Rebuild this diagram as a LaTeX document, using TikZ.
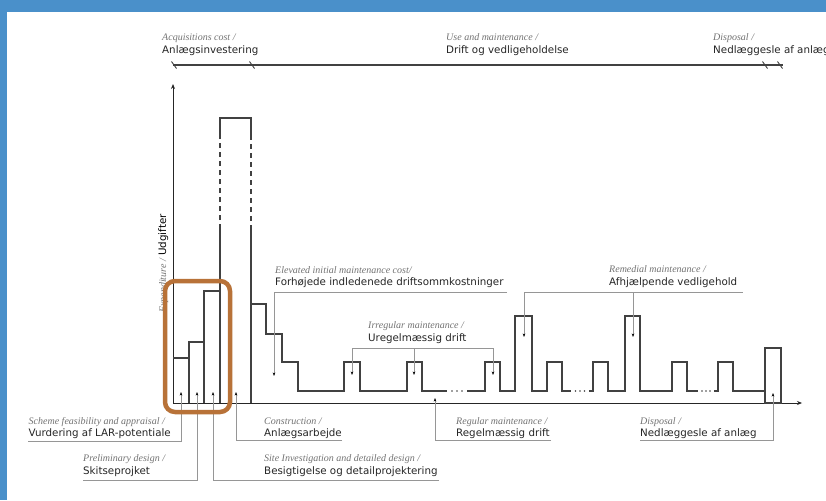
\documentclass[tikz,border=0pt]{standalone}
\usepackage{fontspec}
\setmainfont{DejaVu Sans}
\newfontfamily\itfont{Liberation Serif}
\usetikzlibrary{arrows.meta}
\definecolor{frameblue}{RGB}{74,144,202}
\definecolor{copper}{RGB}{184,114,56}
\definecolor{itgray}{RGB}{115,115,115}
\definecolor{lead}{RGB}{150,150,150}
\definecolor{ink}{RGB}{65,65,65}
\begin{document}
\begin{tikzpicture}[x=1pt,y=-1pt,
  en/.style={font=\itfont\itshape\fontsize{10}{12}\selectfont, text=itgray, anchor=base west, inner sep=0pt},
  dk/.style={font=\fontsize{10.3}{12}\selectfont, text=black!85, anchor=base west, inner sep=0pt},
  leader/.style={draw=lead, line width=0.9pt, -{Stealth[length=3.5pt,width=2.6pt,color=black]}},
  bracket/.style={draw=lead, line width=0.9pt},
  curve/.style={draw=ink, line width=1.1pt, line join=miter},
  axis/.style={draw=black!85, line width=1pt, -{Stealth[length=5pt,width=4pt]}},
  tick/.style={draw=ink, line width=0.9pt},
  dot/.style={fill=ink, draw=none, circle, minimum size=1.6pt, inner sep=0pt},
]
\useasboundingbox (0,0) rectangle (826,500);
\fill[white] (0,0) rectangle (826,500);
\fill[frameblue] (0,0) rectangle (826,12);
\fill[frameblue] (0,0) rectangle (7,500);

% ---------- top timeline ----------
\node[en] (acqE) at (162,40.5) {Acquisitions cost /};
\node[dk] (acqD) at (162,53.5) {Anlægsinvestering};
\node[en] (useE) at (446,40.5) {Use and maintenance /};
\node[dk] (useD) at (446,53.5) {Drift og vedligeholdelse};
\node[en] (dispTE) at (713,40.5) {Disposal /};
\node[dk] (dispTD) at (713,53.5) {Nedlæggesle af anlæg};
\coordinate (tl0) at (173,65);
\coordinate (tl1) at (783,65);
\draw[draw=ink, line width=1.2pt] (tl0) -- (tl1);
\foreach \t [count=\i] in {174,252,765,780}{
  \coordinate (ta\i) at (\t-2.5,61.5);
  \coordinate (tb\i) at (\t+2.5,68.5);
  \draw[tick] (ta\i) -- (tb\i);
}

% ---------- y-axis label ----------
\node[rotate=90, anchor=base west, inner sep=0pt] (ylab) at (166,313)
  {{\itfont\itshape\fontsize{10}{12}\selectfont\color{itgray}Expenditure /} {\fontsize{10.3}{12}\selectfont Udgifter}};

% ---------- axes ----------
\coordinate (O) at (173,403);
\coordinate (ytop) at (173,84);
\coordinate (xend) at (802,403);
\draw[axis] (O) -- (ytop);
\draw[axis] (O) -- (xend);

% ---------- investment bars ----------
\draw[curve] (173,358) -- (189,358);
\draw[curve] (189,403) -- (189,342) -- (204,342);
\draw[curve] (204,403) -- (204,291) -- (220,291);
\draw[curve] (220,403) -- (220,229);
\draw[curve, dash pattern=on 5pt off 4pt] (220,229) -- (220,135);
\draw[curve] (220,135) -- (220,118) -- (251,118) -- (251,135);
\draw[curve, dash pattern=on 5pt off 4pt] (251,135) -- (251,229);
\draw[curve] (251,229) -- (251,403);

% ---------- maintenance profile ----------
\draw[curve] (251,304) -- (266,304) -- (266,334) -- (282,334) -- (282,362) -- (298,362) -- (298,391)
  -- (344,391) -- (344,362) -- (360,362) -- (360,391) -- (407,391) -- (407,362) -- (422,362) -- (422,391) -- (447,391);
\draw[curve] (467,391) -- (485,391) -- (485,362) -- (500,362) -- (500,391) -- (515,391) -- (515,316) -- (532,316)
  -- (532,391) -- (547,391) -- (547,362) -- (562,362) -- (562,391) -- (571,391);
\draw[curve] (589,391) -- (593,391) -- (593,362) -- (608,362) -- (608,391) -- (625,391) -- (625,316) -- (640,316)
  -- (640,391) -- (672,391) -- (672,362) -- (687,362) -- (687,391) -- (698,391);
\draw[curve] (714,391) -- (718,391) -- (718,362) -- (733,362) -- (733,391) -- (765,391);
\draw[curve] (765,348) rectangle (781,403);
\foreach \d [count=\i] in {452,457,462,575.5,580,584.5,702,706,710}{
  \node[dot] (dt\i) at (\d,391) {};
}

% ---------- upper annotations ----------
\node[en] (elevE) at (275,273.5) {Elevated initial maintenance cost/};
\node[dk] (elevD) at (275,285.7) {Forhøjede indledenede driftsommkostninger};
\coordinate (e0) at (507,292);
\coordinate (e1) at (274,292);
\coordinate (e2) at (274,376);
\draw[leader] (e0) -- (e1) -- (e2);

\node[en] (irrE) at (368,328.7) {Irregular maintenance /};
\node[dk] (irrD) at (368,341.7) {Uregelmæssig drift};
\coordinate (i0) at (352,348);
\coordinate (im) at (414,348);
\coordinate (i1) at (493,348);
\coordinate (ia) at (352,375);
\coordinate (ib) at (414,375);
\coordinate (ic) at (493,375);
\draw[bracket] (i0) -- (i1);
\draw[leader] (i0) -- (ia);
\draw[leader] (im) -- (ib);
\draw[leader] (i1) -- (ic);

\node[en] (remE) at (609,272.7) {Remedial maintenance /};
\node[dk] (remD) at (609,285.7) {Afhjælpende vedligehold};
\coordinate (m0) at (524,292);
\coordinate (mm) at (633,292);
\coordinate (m1) at (743,292);
\coordinate (ma) at (524,337);
\coordinate (mb) at (633,337);
\draw[bracket] (m0) -- (m1);
\draw[leader] (m0) -- (ma);
\draw[leader] (mm) -- (mb);

% ---------- lower annotations ----------
\node[en] (schE) at (28.5,424.3) {Scheme feasibility and appraisal /};
\node[dk] (schD) at (28.5,436.7) {Vurdering af LAR-potentiale};
\coordinate (s1) at (181,392);
\coordinate (s2) at (181,441);
\coordinate (s3) at (28,441);
\draw[leader] (s3) -- (s2) -- (s1);

\node[en] (preE) at (83,461.7) {Preliminary design /};
\node[dk] (preD) at (83,474) {Skitseprojket};
\coordinate (p1) at (197,392);
\coordinate (p2) at (197,480);
\coordinate (p3) at (83,480);
\draw[leader] (p3) -- (p2) -- (p1);

\node[en] (sitE) at (264,461.7) {Site Investigation and detailed design /};
\node[dk] (sitD) at (264,474) {Besigtigelse og detailprojektering};
\coordinate (d1) at (213,392);
\coordinate (d2) at (213,480);
\coordinate (d3) at (439,480);
\draw[leader] (d3) -- (d2) -- (d1);

\node[en] (conE) at (264,424.3) {Construction /};
\node[dk] (conD) at (264,436.7) {Anlægsarbejde};
\coordinate (c1) at (236,392);
\coordinate (c2) at (236,440);
\coordinate (c3) at (342,440);
\draw[leader] (c3) -- (c2) -- (c1);

\node[en] (regE) at (456,424.3) {Regular maintenance /};
\node[dk] (regD) at (456,436.7) {Regelmæssig drift};
\coordinate (r1) at (435,398);
\coordinate (r2) at (435,440);
\coordinate (r3) at (551,440);
\draw[leader] (r3) -- (r2) -- (r1);

\node[en] (disE) at (640,424.3) {Disposal /};
\node[dk] (disD) at (640,436.7) {Nedlæggesle af anlæg};
\coordinate (x1) at (773,393);
\coordinate (x2) at (773,440);
\coordinate (x3) at (640,440);
\draw[leader] (x3) -- (x2) -- (x1);

% ---------- highlight box ----------
\coordinate (hb0) at (165,281);
\coordinate (hb1) at (230,412);
\draw[copper, line width=4.5pt, rounded corners=10pt] (hb0) rectangle (hb1);
\end{tikzpicture}
\end{document}
